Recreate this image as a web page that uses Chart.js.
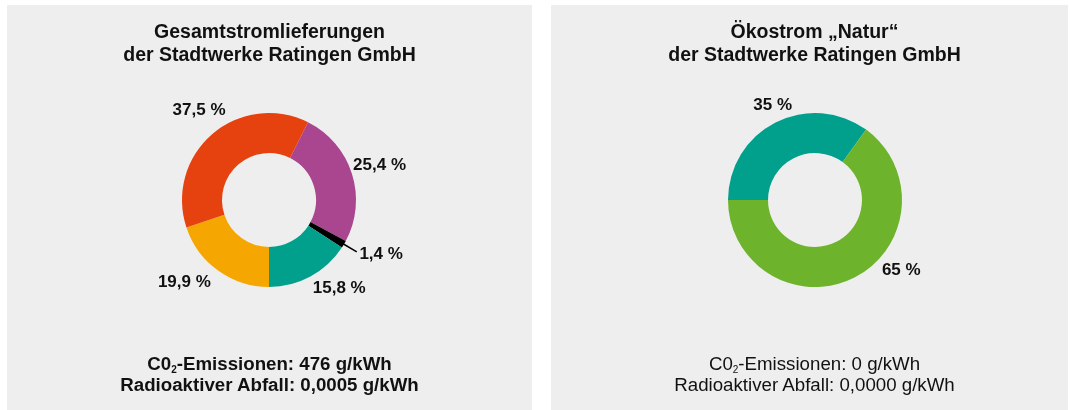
<!DOCTYPE html>
<html>
<head>
<meta charset="utf-8">
<script src="https://cdn.jsdelivr.net/npm/chart.js@4.4.1/dist/chart.umd.min.js"></script>
<style>
  body { margin: 0; background: #fff; font-family: "Liberation Sans", Arial, sans-serif; color: #111; }
  .panel { position: absolute; top: 5px; height: 405px; background: #eeeeee; }
  .panel canvas { position: absolute; left: 0; top: 0; }
  .title { position: absolute; left: 0; top: 15px; font-weight: bold; font-size: 19.5px; line-height: 23px; text-align: center; }
  .foot { position: absolute; left: 0; top: 348px; font-size: 18.7px; line-height: 21px; text-align: center; }
  .foot sub { font-size: 10px; vertical-align: -3px; line-height: 0; }
  .bold { font-weight: bold; }
</style>
</head>
<body>
<div class="panel" id="p1" style="left:7px;width:525px">
  <canvas id="c1" width="525" height="405"></canvas>
  <div class="title" style="width:525px">Gesamtstromlieferungen<br>der Stadtwerke Ratingen GmbH</div>
  <div class="foot bold" style="width:525px">C0<sub>2</sub>-Emissionen: 476 g/kWh<br>Radioaktiver Abfall: 0,0005 g/kWh</div>
</div>
<div class="panel" id="p2" style="left:551px;width:517px">
  <canvas id="c2" width="517" height="405"></canvas>
  <div class="title" style="width:527px">Ökostrom „Natur“<br>der Stadtwerke Ratingen GmbH</div>
  <div class="foot" style="width:527px">C0<sub>2</sub>-Emissionen: 0 g/kWh<br>Radioaktiver Abfall: 0,0000 g/kWh</div>
</div>
<script>
// Gesamtstromlieferungen (clockwise from 6 o'clock)
const mixLabels = ['Sonstige', 'Kernkraft', 'Kohle', 'Erdgas', 'Erneuerbare'];
const mixValues = [19.9, 37.5, 25.4, 1.4, 15.8];
const mixColors = ['#f5a600', '#e5420f', '#a9468f', '#000000', '#00a08c'];

// Ökostrom Natur (clockwise from 9 o'clock)
const natLabels = ['Erneuerbare (EEG)', 'Erneuerbare'];
const natValues = [35, 65];
const natColors = ['#00a08c', '#6db42c'];

// label placement: angle shift from slice middle (deg), distance from centre (px)
const mixLabelShift = [10, 3, 0, 0, -10];
const mixLabelDist = [118, 114, 116, 105, 113];
const natLabelShift = [3, -24];
const natLabelDist = [104, 111];

function fmt(v) {
  return String(v).replace('.', ',') + ' %';
}

const sliceLabels = {
  id: 'sliceLabels',
  afterDatasetsDraw(chart, args, opts) {
    const ctx = chart.ctx;
    const meta = chart.getDatasetMeta(0);
    const values = chart.data.datasets[0].data;
    ctx.save();
    ctx.font = 'bold 17px "Liberation Sans", Arial, sans-serif';
    ctx.fillStyle = '#111';
    ctx.textBaseline = 'middle';
    meta.data.forEach((arc, i) => {
      const p = arc.getProps(['x', 'y', 'startAngle', 'endAngle', 'outerRadius'], true);
      const mid = (p.startAngle + p.endAngle) / 2;
      const text = fmt(values[i]);
      if (opts.leader === i) {
        // thin slice: line out from the ring, text starts at its end
        ctx.strokeStyle = '#000';
        ctx.lineWidth = 1.5;
        ctx.beginPath();
        ctx.moveTo(p.x + Math.cos(mid) * (p.outerRadius - 2), p.y + Math.sin(mid) * (p.outerRadius - 2));
        ctx.lineTo(p.x + Math.cos(mid) * (opts.dist[i] - 3), p.y + Math.sin(mid) * (opts.dist[i] - 3));
        ctx.stroke();
        ctx.textAlign = 'left';
        ctx.fillText(text, p.x + Math.cos(mid) * opts.dist[i], p.y + Math.sin(mid) * opts.dist[i] + 1);
        return;
      }
      const a = mid + opts.shift[i] * Math.PI / 180;
      ctx.textAlign = 'center';
      ctx.fillText(text, p.x + Math.cos(a) * opts.dist[i], p.y + Math.sin(a) * opts.dist[i]);
    });
    ctx.restore();
  }
};

function makeDonut(id, labels, values, colors, rotation, padding, labelOpts) {
  return new Chart(document.getElementById(id), {
    type: 'doughnut',
    data: {
      labels: labels,
      datasets: [{
        data: values,
        backgroundColor: colors,
        borderWidth: 0,
        hoverOffset: 0,
        offset: 0
      }]
    },
    options: {
      responsive: false,
      animation: false,
      events: [],
      rotation: rotation,
      cutout: '54%',
      layout: { padding: padding },
      plugins: {
        legend: { display: false },
        tooltip: { enabled: false },
        sliceLabels: labelOpts
      }
    },
    plugins: [sliceLabels]
  });
}

makeDonut('c1', mixLabels, mixValues, mixColors, 180,
  { left: 175, right: 176, top: 108, bottom: 123 },
  { shift: mixLabelShift, dist: mixLabelDist, leader: 3 });

makeDonut('c2', natLabels, natValues, natColors, 270,
  { left: 177, right: 166, top: 108, bottom: 123 },
  { shift: natLabelShift, dist: natLabelDist, leader: -1 });
</script>
</body>
</html>
